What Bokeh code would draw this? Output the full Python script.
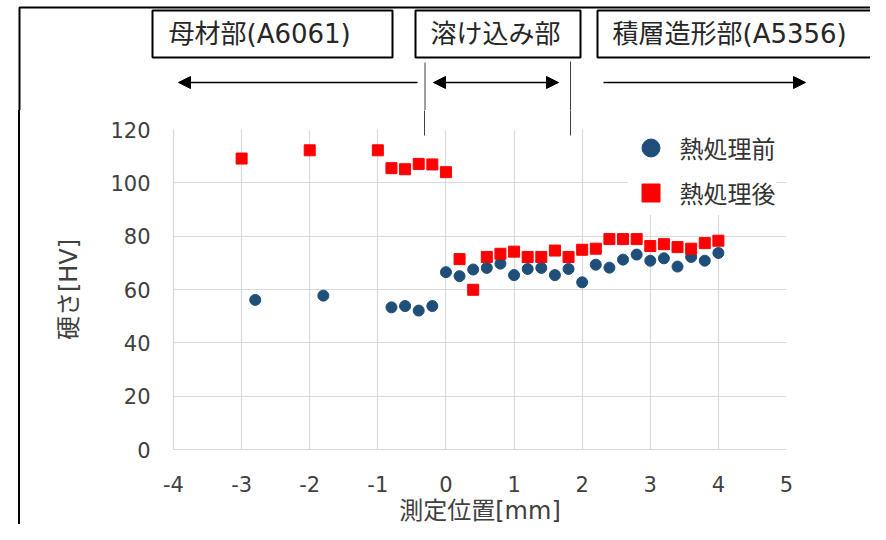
from bokeh.plotting import figure
from bokeh.layouts import column, row
from bokeh.models import (Label, BoxAnnotation, Arrow, NormalHead, Legend,
                          LegendItem, FixedTicker, Range1d, Title, Spacer,
                          LinearAxis, CustomJSTickFormatter)
from bokeh.embed import file_html
from bokeh.resources import INLINE

# ---- data ----
x_before = [-2.8, -1.8, -0.8, -0.6, -0.4, -0.2, 0.0, 0.2, 0.4, 0.6, 0.8, 1.0,
            1.2, 1.4, 1.6, 1.8, 2.0, 2.2, 2.4, 2.6, 2.8, 3.0, 3.2, 3.4, 3.6,
            3.8, 4.0]
hv_before = [56.1, 57.7, 53.3, 53.8, 52.1, 53.8, 66.5, 65.0, 67.5, 68.1, 69.7,
             65.4, 67.7, 68.1, 65.4, 67.7, 62.7, 69.3, 68.2, 71.2, 73.1, 70.8,
             71.7, 68.6, 72.2, 70.8, 73.7]
x_after = [-3.0, -2.0, -1.0, -0.8, -0.6, -0.4, -0.2, 0.0, 0.2, 0.4, 0.6, 0.8,
           1.0, 1.2, 1.4, 1.6, 1.8, 2.0, 2.2, 2.4, 2.6, 2.8, 3.0, 3.2, 3.4,
           3.6, 3.8, 4.0]
hv_after = [109.1, 112.2, 112.2, 105.5, 105.1, 107.1, 106.9, 104.0, 71.4, 59.9,
            72.2, 73.4, 74.2, 72.2, 72.2, 74.6, 72.2, 74.9, 75.3, 78.9, 78.9,
            78.9, 76.3, 77.0, 75.9, 75.3, 77.4, 78.3]
series_names = ["熱処理前", "熱処理後"]
x_ticks = [-4, -3, -2, -1, 0, 1, 2, 3, 4, 5]
y_ticks = [0, 20, 40, 60, 80, 100, 120]
region_names = ["母材部(A6061)", "溶け込み部", "積層造形部(A5356)"]
region_bounds = [-0.315, 1.83]      # boundaries between regions [mm]
x_title = "測定位置[mm]"
y_title = "硬さ[HV]"

FONT = "DejaVu Sans, Noto Sans CJK JP"
GRID = "#d9d9d9"
TXT = "#404040"
W, H = 870, 524
HEAD_H = 110
TOP_GAP = 19
STRIP_W = 20

# ---------------- header (region boxes and arrows) ----------------
hdr = figure(width=W, height=HEAD_H, x_range=Range1d(0, W),
             y_range=Range1d(HEAD_H, 0), output_backend="svg",
             toolbar_location=None, min_border=0)
hdr.axis.visible = False
hdr.grid.visible = False
hdr.outline_line_color = None

# outer frame (top and left edges)
hdr.add_layout(BoxAnnotation(left=19, right=W + 50, top=7, bottom=HEAD_H + 50,
                             fill_alpha=0, line_color="black", line_alpha=1,
                             line_width=2))
boxes = [(152, 392), (415, 580), (597, W + 30)]
for (l, r) in boxes:
    hdr.add_layout(BoxAnnotation(left=l, right=r, top=10, bottom=57,
                                 fill_color="white", fill_alpha=1,
                                 line_color="black", line_alpha=1,
                                 line_width=2))
label_x = [168, 430, 612]
for t, lx in zip(region_names, label_x):
    hdr.add_layout(Label(x=lx, y=33.5, text=t, text_baseline="middle",
                         text_font=FONT, text_font_size="26px",
                         text_color="#262626"))

hdr.segment(x0=[424.5, 570], y0=[62, 61], x1=[424.5, 570], y1=[HEAD_H, HEAD_H],
            line_color="#404040", line_width=1)


def head():
    return NormalHead(size=12, fill_color="black", line_color="black")


arrow_y = 82
for (xs, xe, both) in [(417, 178, False), (433, 558, True), (603, 805, False)]:
    hdr.add_layout(Arrow(start=head() if both else None, end=head(),
                         x_start=xs, y_start=arrow_y, x_end=xe, y_end=arrow_y,
                         line_color="black", line_width=1.3))

# ---------------- left strip (outer frame left edge) ----------------
MAIN_H = H - HEAD_H
strip = row(Spacer(width=STRIP_W - 2, height=MAIN_H),
            Spacer(width=2, height=MAIN_H, styles={"background-color": "black"}),
            spacing=0)

# ---------------- main chart ----------------
p = figure(width=W - STRIP_W, height=MAIN_H, x_range=Range1d(-4, 5),
           y_range=Range1d(0, 120), output_backend="svg", toolbar_location=None,
           min_border_left=173 - STRIP_W, min_border_right=84,
           min_border_top=TOP_GAP, min_border_bottom=75)
p.outline_line_color = None
p.background_fill_color = "white"
p.border_fill_color = "white"

p.xaxis.ticker = FixedTicker(ticks=x_ticks)
p.yaxis.ticker = FixedTicker(ticks=y_ticks)
p.xgrid.ticker = FixedTicker(ticks=x_ticks)
p.ygrid.ticker = FixedTicker(ticks=y_ticks)
p.xaxis.major_label_overrides = {t: str(t) for t in x_ticks}
p.grid.grid_line_color = GRID
p.grid.grid_line_width = 1.2

for ax in (p.xaxis, p.yaxis):
    ax.axis_line_color = GRID
    ax.axis_line_width = 1.2
    ax.major_tick_line_color = None
    ax.minor_tick_line_color = None
    ax.major_tick_out = 0
    ax.major_tick_in = 0
    ax.major_label_text_font = FONT
    ax.major_label_text_font_size = "21px"
    ax.major_label_text_color = TXT

p.xaxis.major_label_standoff = 26
p.yaxis.major_label_standoff = 23
p.yaxis.axis_label = y_title
p.yaxis.axis_label_text_font = FONT
p.yaxis.axis_label_text_font_size = "24px"
p.yaxis.axis_label_text_font_style = "normal"
p.yaxis.axis_label_text_color = TXT
p.yaxis.axis_label_standoff = 24

# region boundary lines continuing down to the plot area (as axis ticks)
bound_ax = LinearAxis(ticker=FixedTicker(ticks=region_bounds),
                      formatter=CustomJSTickFormatter(code="return ''"),
                      axis_line_color=None, minor_tick_line_color=None,
                      major_tick_line_color="#404040", major_tick_line_width=1,
                      major_tick_out=TOP_GAP, major_tick_in=6,
                      major_label_standoff=0, major_label_text_font_size="0px")
p.add_layout(bound_ax, "above")

xt = Title(text=x_title, align="center", offset=-24, text_font=FONT,
           text_font_size="24px", text_font_style="normal", text_color=TXT)
if "standoff" in Title.properties():
    xt.standoff = 0
p.add_layout(xt, "below")

r1 = p.scatter(x_before, hv_before, marker="circle", size=11,
               fill_color="#1f4e79", line_color="#1f4e79")
r2 = p.scatter(x_after, hv_after, marker="square", size=11,
               fill_color="#ff0000", line_color="#ff0000")

legend = Legend(items=[LegendItem(label=series_names[0], renderers=[r1]),
                       LegendItem(label=series_names[1], renderers=[r2])],
                location=(454.5, 234.5))
legend.glyph_width = 45
legend.glyph_height = 45
legend.label_height = 45
legend.label_standoff = 7
legend.spacing = 0
legend.padding = 10
legend.margin = 0
legend.border_line_color = None
legend.background_fill_color = "white"
legend.background_fill_alpha = 1.0
legend.label_text_font = "Noto Sans CJK JP"
legend.label_text_font_size = "24px"
legend.label_text_color = "#333333"
p.add_layout(legend)

layout = column(hdr, row(strip, p, spacing=0), spacing=0)
open("out.html", "w").write(file_html(layout, INLINE))
